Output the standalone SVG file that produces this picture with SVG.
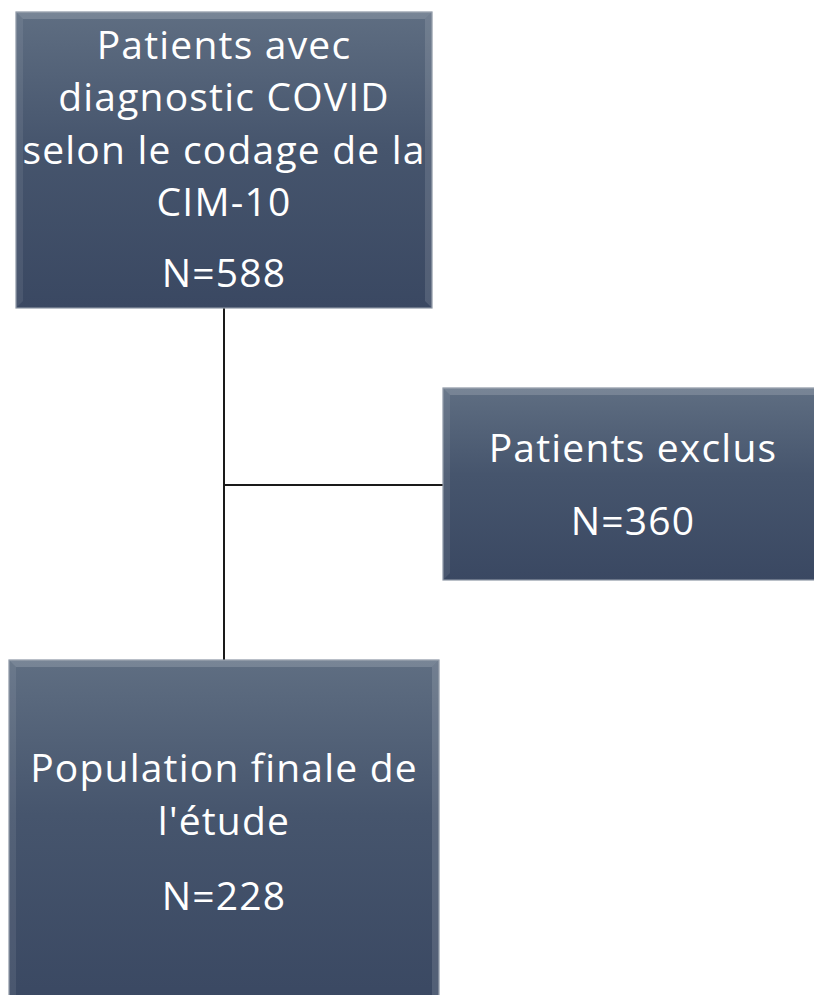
<svg xmlns="http://www.w3.org/2000/svg" width="814" height="995" viewBox="0 0 814 995">
<defs>
<linearGradient id="g" x1="0" y1="0" x2="0" y2="1">
<stop offset="0" stop-color="#5f6e82"/>
<stop offset="0.45" stop-color="#46556d"/>
<stop offset="1" stop-color="#3a4862"/>
</linearGradient>
</defs>
<style>
.box{fill:url(#g);stroke:#8c96a4;stroke-width:1.2}
.bt{fill:#ffffff;fill-opacity:0.16}
.bl{fill:#ffffff;fill-opacity:0.08}
.br{fill:#ffffff;fill-opacity:0.12}
.t{font-family:"Open Sans","Noto Sans",sans-serif;fill:#ffffff;font-size:39px;letter-spacing:1.2px;text-anchor:middle}
.c{stroke:#1a1a1a;stroke-width:2;fill:none}
</style>
<rect width="814" height="995" fill="#ffffff"/>
<g id="connectors">
<line class="c" x1="224" y1="308" x2="224" y2="660"/>
<line class="c" x1="224" y1="485" x2="443" y2="485"/>
</g>
<g id="node1">
<rect class="box" x="16" y="12" width="416" height="296"/>
<polygon class="bt" points="16,12 432,12 425,19 23,19"/>
<polygon class="bl" points="16,12 23,19 23,301 16,308"/>
<polygon class="br" points="432,12 432,308 425,301 425,19"/>
<text class="t" x="224" y="59">Patients avec</text>
<text class="t" x="224" y="111">diagnostic COVID</text>
<text class="t" x="224" y="164">selon le codage de la</text>
<text class="t" x="224" y="216">CIM-10</text>
<text class="t" x="224" y="287">N=588</text>
</g>
<g id="node2">
<rect class="box" x="443" y="388" width="380" height="192"/>
<polygon class="bt" points="443,388 823,388 816,395 450,395"/>
<polygon class="bl" points="443,388 450,395 450,573 443,580"/>
<text class="t" x="633" y="462">Patients exclus</text>
<text class="t" x="633" y="535">N=360</text>
</g>
<g id="node3">
<rect class="box" x="9" y="660" width="430" height="345"/>
<polygon class="bt" points="9,660 439,660 432,667 16,667"/>
<polygon class="bl" points="9,660 16,667 16,1005 9,1005"/>
<polygon class="br" points="439,660 439,1005 432,1005 432,667"/>
<text class="t" x="224" y="782">Population finale de</text>
<text class="t" x="224" y="835">l'étude</text>
<text class="t" x="224" y="910">N=228</text>
</g>
</svg>
